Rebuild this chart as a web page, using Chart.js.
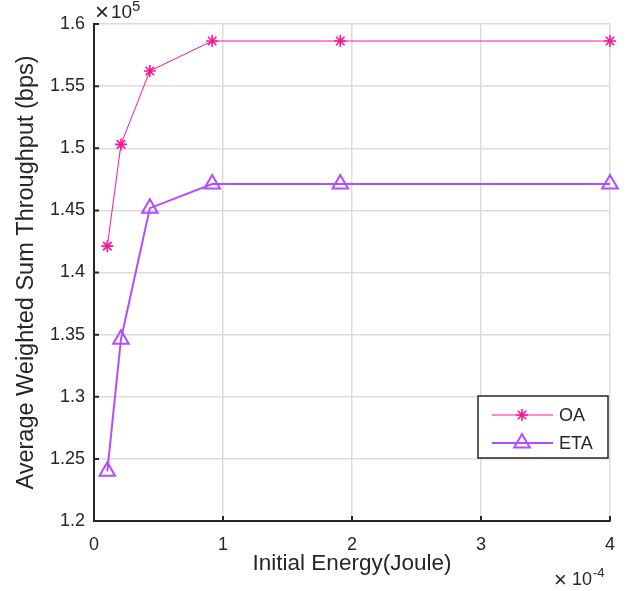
<!DOCTYPE html>
<html>
	<head>
		<meta charset="utf-8">
		<title>Throughput vs initial energy</title>
		<script src="https://cdn.jsdelivr.net/npm/chart.js"></script>
<style>
body {
	margin: 0;
	background: white;
}
#wrap {
	width: 630px;
	height: 591px;
}
</style>
	</head>
<body>
<div id="wrap"><canvas id="myChart" width="630" height="591"></canvas></div>

<script>
// x in units of 1e-4 Joule, y in units of 1e5 bps
const energy = [0.103, 0.209, 0.433, 0.916, 1.909, 4.0];
const oaValues = [1.4212, 1.5031, 1.5622, 1.5863, 1.5863, 1.5863];
const etaValues = [1.2400, 1.3463, 1.4518, 1.4712, 1.4712, 1.4712];
const xTicks = [0, 1, 2, 3, 4];
const yTicks = [1.2, 1.25, 1.3, 1.35, 1.4, 1.45, 1.5, 1.55, 1.6];

const oaColor = "#ff1493";
const etaColor = "#b44dff";
const axisColor = "#262626";
const fontName = "'Liberation Sans', Arial, sans-serif";

function toPoints(xs, ys) {
	return xs.map((x, i) => ({x: x, y: ys[i]}));
}

// inward ticks, the x10 exponents and the boxed legend
const extras = {
	id: "extras",
	afterDraw(chart) {
		const ctx = chart.ctx;
		const xs = chart.scales.x;
		const ys = chart.scales.y;
		const area = chart.chartArea;
		ctx.save();
		ctx.strokeStyle = axisColor;
		ctx.lineWidth = 2;
		ctx.beginPath();
		xTicks.forEach(v => {
			const px = xs.getPixelForValue(v);
			ctx.moveTo(px, area.bottom);
			ctx.lineTo(px, area.bottom - 5);
		});
		yTicks.forEach(v => {
			const py = ys.getPixelForValue(v);
			ctx.moveTo(area.left, py);
			ctx.lineTo(area.left + 5, py);
		});
		ctx.stroke();

		ctx.fillStyle = axisColor;
		ctx.textBaseline = "alphabetic";
		ctx.textAlign = "left";
		// y exponent
		ctx.font = "24px " + fontName;
		ctx.fillText("\u00d7", 95, 20);
		ctx.font = "19px " + fontName;
		ctx.fillText("10", 111, 18);
		ctx.font = "15px " + fontName;
		ctx.fillText("5", 132, 11);
		// x exponent
		ctx.font = "22px " + fontName;
		ctx.fillText("\u00d7", 554, 587);
		ctx.font = "18px " + fontName;
		ctx.fillText("10", 572, 585);
		ctx.font = "13px " + fontName;
		ctx.fillText("-4", 593, 577);

		// legend
		const bx = 478, by = 396, bw = 130, bh = 62;
		ctx.fillStyle = "white";
		ctx.fillRect(bx, by, bw, bh);
		ctx.strokeStyle = axisColor;
		ctx.lineWidth = 1.5;
		ctx.strokeRect(bx, by, bw, bh);
		const rows = [
			{label: "OA", ds: chart.data.datasets[0], y: 415},
			{label: "ETA", ds: chart.data.datasets[1], y: 443}
		];
		rows.forEach(r => {
			ctx.strokeStyle = r.ds.borderColor;
			ctx.lineWidth = r.ds.borderWidth;
			ctx.beginPath();
			ctx.moveTo(492, r.y);
			ctx.lineTo(553, r.y);
			ctx.stroke();
			ctx.fillStyle = r.ds.backgroundColor;
			ctx.lineWidth = r.ds.pointBorderWidth;
			Chart.helpers.drawPoint(ctx, {
				pointStyle: r.ds.pointStyle,
				radius: r.ds.pointRadius,
				borderWidth: r.ds.pointBorderWidth,
				rotation: 0
			}, 522, r.y);
			ctx.fillStyle = axisColor;
			ctx.font = "18px " + fontName;
			ctx.textBaseline = "middle";
			ctx.fillText(r.label, 559, r.y + 1);
		});
		ctx.restore();
	}
};

const chart = new Chart("myChart", {
	type: "line",
	data: {
		datasets: [
			{
				label: "OA",
				data: toPoints(energy, oaValues),
				borderColor: oaColor,
				backgroundColor: oaColor,
				borderWidth: 1,
				pointStyle: "star",
				pointRadius: 6,
				pointBorderWidth: 1.6,
				pointBorderColor: oaColor,
				pointBackgroundColor: oaColor,
				lineTension: 0,
				clip: false,
				fill: false
			},
			{
				label: "ETA",
				data: toPoints(energy, etaValues),
				borderColor: etaColor,
				backgroundColor: "rgba(0,0,0,0)",
				borderWidth: 2,
				pointStyle: "triangle",
				pointRadius: 9,
				pointBorderWidth: 2,
				pointBorderColor: etaColor,
				pointBackgroundColor: "rgba(0,0,0,0)",
				lineTension: 0,
				clip: false,
				fill: false
			}
		]
	},
	options: {
		responsive: false,
		animation: false,
		layout: {
			padding: {top: 24, right: 20, bottom: 0, left: 0}
		},
		plugins: {
			legend: {display: false},
			tooltip: {enabled: false}
		},
		scales: {
			x: {
				type: "linear",
				min: 0,
				max: 4,
				afterFit(scale) { scale.height = 70; },
				afterBuildTicks(scale) { scale.ticks = xTicks.map(v => ({value: v})); },
				grid: {color: "#dcdcdc", lineWidth: 1.5, drawTicks: false},
				border: {color: axisColor, width: 2},
				ticks: {
					color: axisColor,
					padding: 13,
					maxRotation: 0,
					font: {family: fontName, size: 18}
				},
				title: {
					display: true,
					text: "Initial Energy(Joule)",
					color: axisColor,
					font: {family: fontName, size: 22.5},
					padding: {top: 0, bottom: 14}
				}
			},
			y: {
				type: "linear",
				min: 1.2,
				max: 1.6,
				afterFit(scale) { scale.width = 94; },
				afterBuildTicks(scale) { scale.ticks = yTicks.map(v => ({value: v})); },
				grid: {color: "#dcdcdc", lineWidth: 1.5, drawTicks: false},
				border: {color: axisColor, width: 2},
				ticks: {
					color: axisColor,
					padding: 9,
					font: {family: fontName, size: 18},
					callback: v => String(Math.round(v * 100) / 100)
				},
				title: {
					display: true,
					text: "Average Weighted Sum Throughput (bps)",
					color: axisColor,
					font: {family: fontName, size: 23.5},
					padding: {top: 12, bottom: 0}
				}
			}
		}
	},
	plugins: [extras]
});
</script>

</body>
</html>
